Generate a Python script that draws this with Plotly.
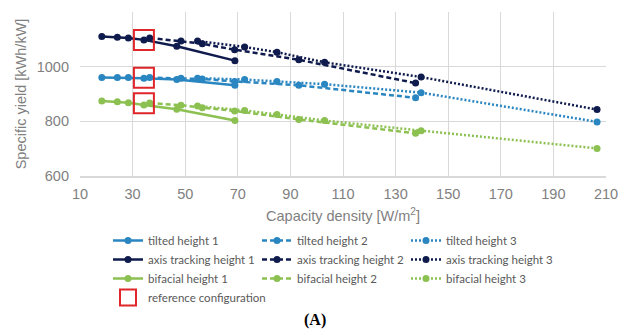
import plotly.graph_objects as go

# Capacity density [W/m2] for each installation height
density_h1 = [18.3, 24.2, 28.4, 34.3, 46.8, 68.9]
density_h2 = [36.5, 48.4, 56.5, 68.8, 93.2, 137.6]
density_h3 = [54.7, 72.6, 84.9, 103.0, 139.7, 206.6]

# Specific yield [kWh/kW]
tilted_h1 = [960, 960, 960, 958, 953, 932]
tilted_h2 = [960, 958, 955, 946, 932, 886]
tilted_h3 = [958, 953, 946, 936, 905, 798]
axis_h1 = [1110, 1108, 1105, 1098, 1075, 1022]
axis_h2 = [1105, 1094, 1084, 1062, 1025, 940]
axis_h3 = [1094, 1072, 1053, 1016, 962, 843]
bif_h1 = [874, 872, 868, 860, 844, 803]
bif_h2 = [867, 859, 850, 838, 807, 756]
bif_h3 = [856, 840, 825, 803, 766, 701]

# Reference configuration (marked points)
ref_x = [34.3, 34.3, 34.3]
ref_y = [1098, 959, 866]

x_ticks = [10, 30, 50, 70, 90, 110, 130, 150, 170, 190, 210]
y_ticks = [600, 800, 1000, 1200]

C_TILT = "#2a86c0"
C_AXIS = "#0f1b4c"
C_BIF = "#8cc152"
C_REF = "#e0262a"

DASH = "5px,3px"
DOT = "2px,2px"

series = [
    ("tilted height 1", density_h1, tilted_h1, C_TILT, "solid"),
    ("tilted height 2", density_h2, tilted_h2, C_TILT, DASH),
    ("tilted height 3", density_h3, tilted_h3, C_TILT, DOT),
    ("axis tracking height 1", density_h1, axis_h1, C_AXIS, "solid"),
    ("axis tracking height 2", density_h2, axis_h2, C_AXIS, DASH),
    ("axis tracking height 3", density_h3, axis_h3, C_AXIS, DOT),
    ("bifacial height 1", density_h1, bif_h1, C_BIF, "solid"),
    ("bifacial height 2", density_h2, bif_h2, C_BIF, DASH),
    ("bifacial height 3", density_h3, bif_h3, C_BIF, DOT),
]

fig = go.Figure()
for name, xs, ys, col, dash in series:
    fig.add_trace(go.Scatter(
        x=xs, y=ys, name=name, mode="lines+markers",
        line=dict(color=col, width=2.5, dash=dash),
        marker=dict(color=col, size=7, symbol="circle"),
    ))

fig.add_trace(go.Scatter(
    x=ref_x, y=ref_y, name="reference configuration", mode="markers",
    marker=dict(symbol="square-open", size=20, color=C_REF, line=dict(width=2, color=C_REF)),
))

grid = "#d9d9d9"
tick_font = dict(family="Liberation Sans, Arial, sans-serif", size=14.5, color="#7f7f7f")

# page has an 8px body margin, so the figure is 8px smaller on each axis
W, H = 622, 325
L, T, PW, PH = 72, 4, 526, 164

fig.update_layout(
    width=W, height=H,
    margin=dict(l=L, r=W - L - PW, t=T, b=H - T - PH, autoexpand=False),
    paper_bgcolor="white", plot_bgcolor="white",
    showlegend=True,
    legend=dict(
        orientation="h", x=(100 - L) / PW, xanchor="left", y=-(218 - (T + PH)) / PH, yanchor="top",
        font=dict(family="Lato, Open Sans, sans-serif", size=11.5, color="#595959"),
        entrywidth=104, entrywidthmode="pixels",
        tracegroupgap=0, itemwidth=30,
        bgcolor="rgba(0,0,0,0)",
    ),
    annotations=[dict(
        text="<b>(A)</b>", x=(307 - L) / PW, y=-(312 - (T + PH)) / PH,
        xref="paper", yref="paper", xanchor="center", yanchor="middle",
        showarrow=False,
        font=dict(family="Liberation Serif, Times New Roman, serif", size=16, color="black"),
    )],
)

fig.update_xaxes(
    range=[10, 210], tickvals=x_ticks, showgrid=True, gridcolor=grid, gridwidth=1,
    zeroline=False, showline=True, linecolor=grid, linewidth=1.5, mirror=False,
    ticks="", tickfont=tick_font, ticklabelstandoff=4,
    title=dict(text="Capacity density [W/m<sup>2</sup>]", font=tick_font, standoff=10),
)
fig.update_yaxes(
    range=[600, 1200], tickvals=y_ticks, showgrid=True, gridcolor=grid, gridwidth=1,
    zeroline=False, showline=False, ticks="", tickfont=tick_font, ticklabelstandoff=10,
    title=dict(text="Specific yield [kWh/kW]", font=tick_font, standoff=6),
)

fig.write_html("out.html")
